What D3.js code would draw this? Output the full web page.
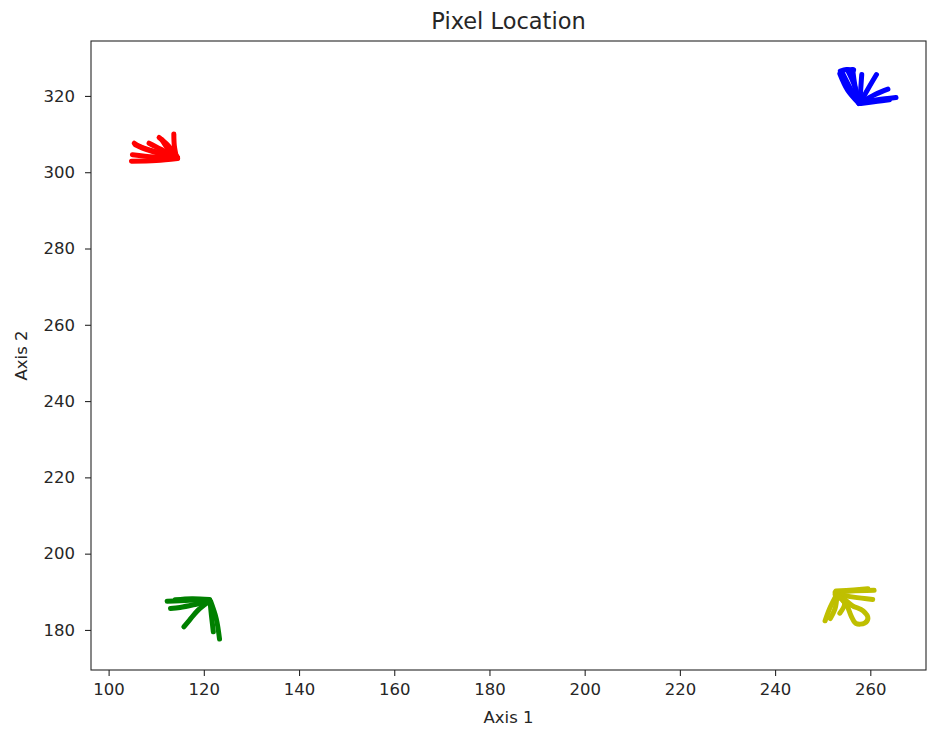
<!DOCTYPE html>
<html>
<head>
<meta charset="utf-8">
<script src="https://cdn.jsdelivr.net/npm/d3@7"></script>
<style>
  body { margin: 0; background: #fff; }
  svg text { font-family: "DejaVu Sans", sans-serif; fill: #262626; }
</style>
</head>
<body>
<svg id="chart" width="927" height="731"></svg>
<script>
// Tracked pixel positions, one array of strokes per marker colour.
const redTracks = [
  [[114.5, 303.6], [110.0, 303.1], [104.8, 302.9]],
  [[114.5, 303.7], [109.5, 304.0], [105.0, 304.6]],
  [[114.4, 303.9], [110.0, 305.3], [106.5, 306.8], [105.4, 307.6]],
  [[114.4, 303.8], [110.5, 305.0], [107.0, 306.4], [105.6, 307.2]],
  [[114.4, 304.0], [111.0, 306.0], [108.5, 307.6]],
  [[114.3, 304.2], [112.5, 307.0], [110.6, 309.1]],
  [[114.3, 304.1], [112.2, 306.6], [111.2, 308.5]],
  [[114.2, 304.2], [113.8, 307.0], [113.7, 310.0]]
];
const blueTracks = [
  [[257.6, 318.0], [255.8, 322.0], [254.0, 326.4]],
  [[257.5, 318.2], [255.2, 321.6], [253.6, 325.8]],
  [[257.7, 318.0], [256.8, 322.5], [256.3, 326.9]],
  [[257.6, 318.1], [256.6, 323.0], [255.3, 326.6]],
  [[253.7, 326.5], [255.0, 326.9], [256.5, 326.8]],
  [[257.8, 318.1], [258.0, 322.0], [258.2, 325.6]],
  [[257.9, 318.2], [259.6, 322.0], [261.3, 325.6]],
  [[258.0, 318.3], [261.0, 320.4], [263.7, 321.8]],
  [[258.1, 318.3], [261.5, 319.0], [265.4, 319.6]],
  [[258.0, 318.0], [261.5, 318.6], [264.0, 319.0]]
];
const greenTracks = [
  [[121.2, 187.8], [117.0, 187.8], [112.3, 187.5]],
  [[121.2, 188.0], [117.5, 188.2], [114.0, 187.9]],
  [[121.1, 187.6], [117.8, 186.6], [115.0, 185.9], [113.0, 185.6]],
  [[121.0, 187.4], [118.8, 185.2], [117.0, 182.6], [115.8, 180.8]],
  [[121.3, 187.6], [121.6, 183.8], [122.0, 179.5]],
  [[121.4, 187.6], [122.6, 183.0], [123.3, 177.6]]
];
const yellowTracks = [
  [[252.6, 189.8], [256.0, 190.2], [260.8, 190.4]],
  [[252.8, 190.2], [256.5, 190.5], [259.5, 190.8]],
  [[252.6, 189.4], [256.5, 188.6], [260.5, 188.0]],
  [[252.9, 189.2], [251.6, 186.0], [250.5, 182.4]],
  [[253.0, 189.0], [252.6, 185.6], [251.6, 183.0]],
  [[253.1, 189.0], [254.6, 187.0], [253.6, 184.4]],
  [[253.2, 189.0], [255.0, 186.6], [256.0, 183.6], [257.0, 181.7],
   [258.8, 181.8], [259.5, 183.1], [258.5, 185.0], [256.2, 186.4], [254.6, 188.0]]
];
const trackColors = ["#ff0000", "#0000ff", "#008000", "#bfbf00"];
const xTicks = [100, 120, 140, 160, 180, 200, 220, 240, 260];
const yTicks = [180, 200, 220, 240, 260, 280, 300, 320];
const xDomain = [96.3, 271.7];
const yDomain = [169.5, 334.4];

const svg = d3.select("#chart");
const plot = { left: 91, right: 926, top: 41, bottom: 670 };

const x = d3.scaleLinear().domain(xDomain).range([plot.left, plot.right]);
const y = d3.scaleLinear().domain(yDomain).range([plot.bottom, plot.top]);

// Strokes
const line = d3.line().x(d => x(d[0])).y(d => y(d[1])).curve(d3.curveCatmullRom.alpha(0.5));
const groups = [redTracks, blueTracks, greenTracks, yellowTracks];
groups.forEach((tracks, i) => {
  svg.append("g")
    .selectAll("path")
    .data(tracks)
    .join("path")
    .attr("d", line)
    .attr("fill", "none")
    .attr("stroke", trackColors[i])
    .attr("stroke-width", 5)
    .attr("stroke-linecap", "round")
    .attr("stroke-linejoin", "round");
});

// Axes
const xAxis = d3.axisBottom(x).tickValues(xTicks).tickSize(6).tickPadding(7).tickSizeOuter(0);
const yAxis = d3.axisLeft(y).tickValues(yTicks).tickSize(6).tickPadding(10).tickSizeOuter(0);

const gx = svg.append("g").attr("transform", `translate(0,${plot.bottom})`).call(xAxis);
const gy = svg.append("g").attr("transform", `translate(${plot.left},0)`).call(yAxis);
[gx, gy].forEach(g => {
  g.select(".domain").remove();
  g.selectAll(".tick line").attr("stroke", "#262626").attr("stroke-width", 1.1);
  g.selectAll(".tick text").attr("font-size", 16.5).attr("fill", "#262626")
    .attr("font-family", "DejaVu Sans, sans-serif");
});

// Frame
svg.append("rect")
  .attr("x", plot.left).attr("y", plot.top)
  .attr("width", plot.right - plot.left).attr("height", plot.bottom - plot.top)
  .attr("fill", "none").attr("stroke", "#262626").attr("stroke-width", 1.1);

// Titles
svg.append("text").attr("x", (plot.left + plot.right) / 2).attr("y", 29)
  .attr("text-anchor", "middle").attr("font-size", 22.5).text("Pixel Location");
svg.append("text").attr("x", (plot.left + plot.right) / 2).attr("y", 723)
  .attr("text-anchor", "middle").attr("font-size", 16.5).text("Axis 1");
svg.append("text").attr("transform", `translate(27,${(plot.top + plot.bottom) / 2}) rotate(-90)`)
  .attr("text-anchor", "middle").attr("font-size", 16.5).text("Axis 2");
</script>
</body>
</html>
